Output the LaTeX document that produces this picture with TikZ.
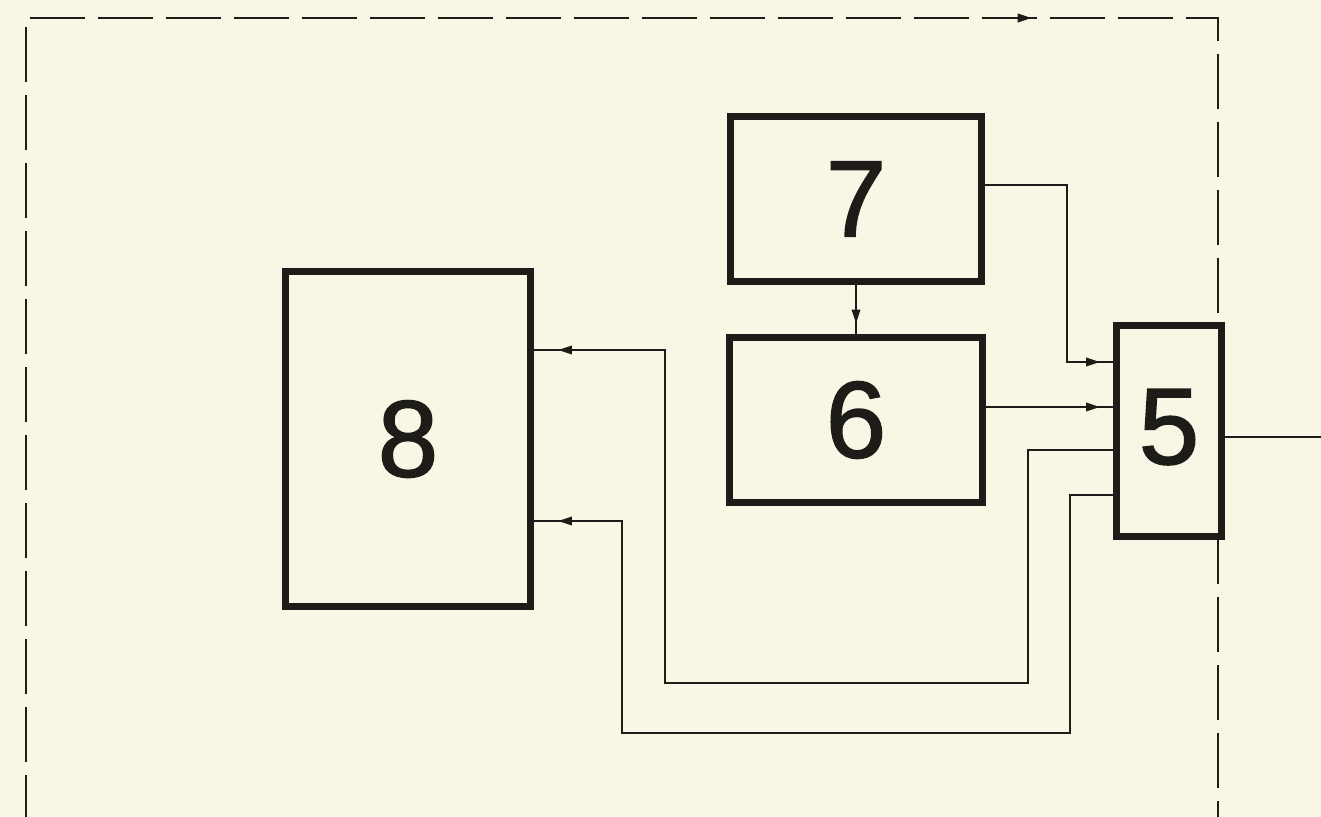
\documentclass[tikz,border=0pt]{standalone}
\usepackage{fontspec}
\newfontfamily\digitfont[FakeBold=1.4]{Liberation Sans}
\usetikzlibrary{arrows.meta,decorations.markings,calc}
\definecolor{bg}{RGB}{248,246,228}
\definecolor{ink}{RGB}{30,28,24}
\tikzset{
  box/.style={draw=ink, line width=0.14cm, fill=bg, inner sep=0pt,
    font=\digitfont\fontsize{62pt}{62pt}\selectfont, text=ink},
  conn/.style={draw=ink, line width=0.04cm},
  frame/.style={draw=ink, line width=0.04cm, dash pattern=on 1.1cm off 0.26cm},
  tipat/.style={postaction={decorate}, decoration={markings,
    mark=at position #1 with {\arrow{Triangle[length=0.28cm,width=0.17cm]}}}}
}
\begin{document}
\begin{tikzpicture}[x=0.02cm,y=-0.02cm]
\path[use as bounding box] (0,0) rectangle (1321,817);
\clip (0,0) rectangle (1321,817);
\fill[bg] (0,0) rectangle (1321,817);
% dashed frame
\coordinate (fbl) at (26,830);
\coordinate (ftl) at (26,18);
\coordinate (ftr) at (1218,18);
\coordinate (fbr) at (1218,830);
\draw[frame, tipat=36.36cm] (fbl) -- (ftl) -- (ftr) -- (fbr);
% boxes
\node[box, minimum width=5.02cm, minimum height=3.3cm] (n7) at (856,199) {7};
\node[box, minimum width=5.06cm, minimum height=3.32cm] (n6) at (856,420) {6};
\node[box, minimum width=4.9cm, minimum height=6.7cm] (n8) at (408,439) {\raisebox{-0.1cm}{8}};
\node[box, minimum width=2.1cm, minimum height=4.22cm] (n5) at (1169,431) {\raisebox{0.18cm}{5}};
% bend points
\coordinate (k1) at (1067,185);
\coordinate (k2) at (1067,362);
\coordinate (k3) at (1000,407);
\coordinate (k4) at (1028,450);
\coordinate (k5) at (1028,683);
\coordinate (k6) at (665,683);
\coordinate (k7) at (665,350);
\coordinate (k8) at (1070,495);
\coordinate (k9) at (1070,733);
\coordinate (k10) at (622,733);
\coordinate (k11) at (622,521);
\coordinate (out) at (1321,437);
% connectors
\draw[conn, tipat=-0.26cm] (n7.east |- k1) -- (k1) -- (k2) -- (n5.west |- k2);
\draw[conn, tipat=-0.2cm] (n7.south) -- (n6.north);
\draw[conn, tipat=-0.26cm] (n6.east |- k3) -- (n5.west |- k3);
\draw[conn, tipat=-0.48cm] (n5.west |- k4) -- (k4) -- (k5) -- (k6) -- (k7) -- (n8.east |- k7);
\draw[conn, tipat=-0.48cm] (n5.west |- k8) -- (k8) -- (k9) -- (k10) -- (k11) -- (n8.east |- k11);
\draw[conn] (n5.east |- out) -- (out);
\end{tikzpicture}
\end{document}
